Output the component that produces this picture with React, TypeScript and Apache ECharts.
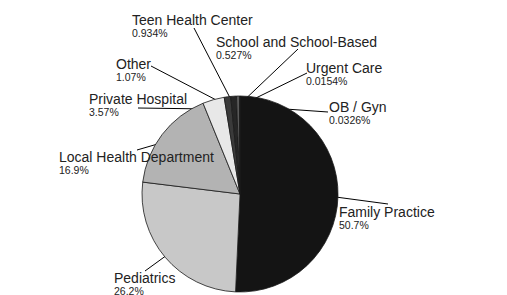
import React, { useEffect, useRef } from "react";
import * as echarts from "echarts";

// ---- data ----
const categories = [
  "Family Practice",
  "Pediatrics",
  "Local Health Department",
  "Private Hospital",
  "Other",
  "Teen Health Center",
  "School and School-Based",
  "OB / Gyn",
  "Urgent Care",
];
const percents = [50.7, 26.2, 16.9, 3.57, 1.07, 0.934, 0.527, 0.0326, 0.0154];

// ---- styling / layout (not data) ----
const sliceColors = [
  "#141414",
  "#c8c8c8",
  "#b3b3b3",
  "#e8e8e8",
  "#3a3a3a",
  "#262626",
  "#5a5a5a",
  "#777777",
  "#999999",
];
const CX = 240;
const CY = 194;
const R = 98;
// [textLeft, textTop, lineEndX, lineEndY]
const labelPlacement: number[][] = [
  [339, 204.5, 388, 204],
  [114, 270.7, 145, 271],
  [59, 149.5, 137, 150],
  [89, 91.7, 138, 108],
  [116, 56.5, 151, 66],
  [132, 12.7, 194, 28],
  [216, 34.7, 298, 49],
  [329, 99.3, 328, 112],
  [306, 60.3, 307, 73],
];

export default function App() {
  const ref = useRef<HTMLDivElement>(null);
  useEffect(() => {
    if (!ref.current) return;
    const chart = echarts.init(ref.current, undefined, { renderer: "svg" });
    const total = percents.reduce((a, b) => a + b, 0);
    const midAngles: number[] = [];
    let cum = 0;
    percents.forEach((v) => {
      midAngles.push(((cum + v / 2) / total) * Math.PI * 2);
      cum += v;
    });
    chart.setOption({
      animation: false,
      series: [
        {
          type: "pie",
          center: [CX, CY],
          radius: R,
          startAngle: 90,
          clockwise: true,
          avoidLabelOverlap: false,
          minAngle: 0,
          data: categories.map((name, i) => ({
            name,
            value: percents[i],
            itemStyle: { color: sliceColors[i] },
          })),
          itemStyle: { borderColor: "#1a1a1a", borderWidth: 0.8 },
          label: {
            show: true,
            position: "outside",
            formatter: "{n|{b}}\n{p|{c}%}",
            color: "#222",
            fontFamily: "Liberation Sans, Arial, sans-serif",
            rich: {
              n: { fontSize: 14, lineHeight: 15, color: "#222", fontFamily: "Liberation Sans, Arial, sans-serif" },
              p: { fontSize: 10.5, lineHeight: 11, color: "#222", fontFamily: "Liberation Sans, Arial, sans-serif" },
            },
          },
          labelLine: {
            show: true,
            lineStyle: { color: "#000", width: 1 },
          },
          emphasis: { disabled: true },
          labelLayout: (params: any) => {
            const i = params.dataIndex;
            const p = labelPlacement[i];
            const a = midAngles[i];
            const ix = CX + 0.9 * R * Math.sin(a);
            const iy = CY - 0.9 * R * Math.cos(a);
            return {
              x: p[0],
              y: p[1],
              align: "left",
              verticalAlign: "top",
              labelLinePoints: [
                [ix, iy],
                [p[2], p[3]],
                [p[2], p[3]],
              ],
            };
          },
        },
      ],
    });
    return () => chart.dispose();
  }, []);
  return (
    <div
      ref={ref}
      style={{ position: "fixed", left: 0, top: 0, width: 507, height: 295, background: "#fff" }}
    />
  );
}
